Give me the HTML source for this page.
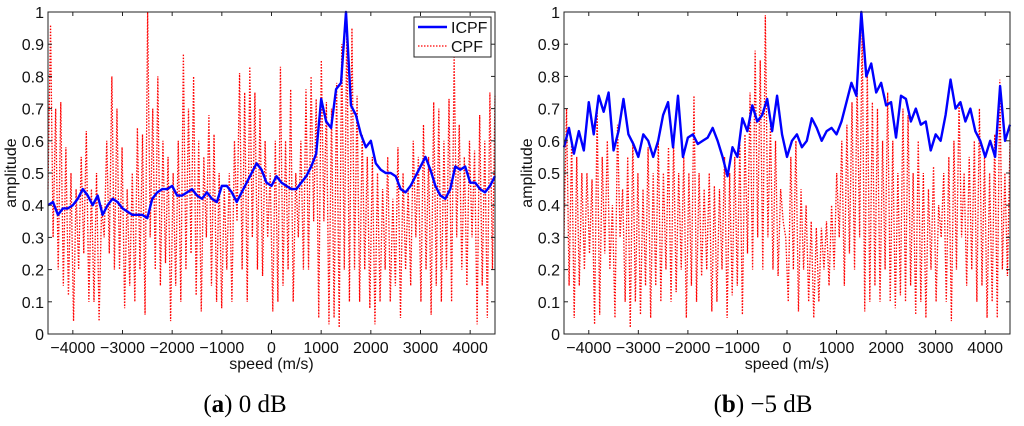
<!DOCTYPE html>
<html><head><meta charset="utf-8">
<style>
html,body{margin:0;padding:0;background:#fff;}
svg{display:block;font-family:"Liberation Sans",sans-serif;}
</style></head>
<body>
<svg id="chart" width="1024" height="426" viewBox="0 0 1024 426" xmlns="http://www.w3.org/2000/svg">
<text x="245" y="412" text-anchor="middle" font-family="Liberation Serif,serif" font-size="25">(<tspan font-weight="bold">a</tspan>) 0 dB</text>
<text x="763" y="412" text-anchor="middle" font-family="Liberation Serif,serif" font-size="25">(<tspan font-weight="bold">b</tspan>) −5 dB</text>
</svg>
<script>
const xTicks=[-4000,-3000,-2000,-1000,0,1000,2000,3000,4000];
const yTicks=[0,0.1,0.2,0.3,0.4,0.5,0.6,0.7,0.8,0.9,1];
const icpfA=[0.40,0.41,0.37,0.39,0.39,0.40,0.42,0.45,0.43,0.40,
0.43,0.37,0.40,0.42,0.41,0.39,0.38,0.37,0.37,0.37,
0.36,0.42,0.44,0.45,0.45,0.46,0.43,0.43,0.44,0.45,
0.43,0.42,0.44,0.42,0.41,0.46,0.46,0.44,0.41,0.44,
0.47,0.50,0.53,0.51,0.47,0.46,0.49,0.47,0.46,0.45,
0.45,0.47,0.49,0.52,0.56,0.73,0.66,0.64,0.76,0.78,
1.0,0.71,0.68,0.62,0.58,0.60,0.53,0.51,0.50,0.50,
0.49,0.45,0.44,0.46,0.49,0.52,0.55,0.51,0.46,0.43,
0.42,0.45,0.52,0.51,0.52,0.47,0.47,0.45,0.44,0.46,0.49];
const cpfA=[0.45,0.96,0.3,0.7,0.2,0.72,0.15,0.58,
0.12,0.5,0.04,0.45,0.2,0.55,0.25,0.63,0.1,0.45,
0.1,0.5,0.04,0.4,0.3,0.6,0.25,0.8,0.2,0.7,
0.2,0.58,0.08,0.45,0.15,0.5,0.1,0.64,0.2,0.62,
0.06,1.0,0.3,0.7,0.2,0.8,0.15,0.6,0.22,0.55,
0.04,0.5,0.15,0.6,0.1,0.87,0.2,0.7,0.25,0.8,
0.12,0.6,0.07,0.55,0.3,0.68,0.15,0.62,0.1,0.5,
0.08,0.45,0.2,0.5,0.1,0.6,0.35,0.81,0.2,0.75,
0.1,0.83,0.3,0.75,0.2,0.7,0.18,0.6,0.3,0.5,
0.07,0.6,0.1,0.83,0.15,0.6,0.2,0.76,0.1,0.5,
0.3,0.6,0.2,0.76,0.2,0.8,0.35,0.73,0.05,0.85,
0.35,0.72,0.03,0.7,0.05,0.78,0.02,0.9,0.2,0.98,
0.1,0.95,0.2,0.74,0.1,0.62,0.2,0.55,0.08,0.55,
0.03,0.5,0.1,0.45,0.2,0.55,0.1,0.42,0.15,0.58,
0.05,0.5,0.2,0.45,0.15,0.6,0.3,0.55,0.1,0.65,
0.2,0.55,0.06,0.72,0.15,0.7,0.1,0.6,0.2,0.73,
0.1,0.86,0.3,0.65,0.2,0.55,0.15,0.6,0.3,0.57,
0.03,0.68,0.15,0.6,0.05,0.75,0.2,0.74];
const icpfB=[0.58,0.64,0.56,0.63,0.57,0.72,0.62,0.74,0.69,0.75,
0.57,0.63,0.73,0.62,0.59,0.55,0.62,0.60,0.55,0.60,
0.68,0.72,0.58,0.74,0.55,0.61,0.62,0.59,0.60,0.61,
0.64,0.60,0.55,0.49,0.58,0.55,0.67,0.63,0.71,0.66,
0.68,0.73,0.63,0.74,0.62,0.55,0.60,0.62,0.58,0.60,
0.67,0.64,0.60,0.63,0.64,0.62,0.66,0.72,0.78,0.74,
1.0,0.80,0.84,0.75,0.78,0.71,0.72,0.61,0.74,0.73,
0.66,0.70,0.65,0.66,0.57,0.62,0.60,0.68,0.79,0.70,
0.72,0.66,0.70,0.63,0.60,0.55,0.60,0.55,0.77,0.60,0.65];
const cpfB=[0.3,0.7,0.15,0.6,0.05,0.55,0.15,0.5,
0.2,0.5,0.25,0.48,0.03,0.7,0.06,0.55,0.25,0.6,
0.2,0.4,0.05,0.65,0.3,0.45,0.1,0.55,0.02,0.6,
0.1,0.5,0.06,0.45,0.15,0.58,0.05,0.5,0.15,0.6,
0.1,0.5,0.2,0.58,0.1,0.6,0.13,0.5,0.2,0.55,
0.05,0.5,0.15,0.74,0.1,0.5,0.18,0.45,0.2,0.5,
0.07,0.46,0.1,0.45,0.2,0.55,0.05,0.5,0.12,0.55,
0.15,0.6,0.06,0.62,0.25,0.75,0.2,0.88,0.3,0.85,
0.2,0.99,0.3,0.65,0.2,0.6,0.18,0.45,0.35,0.3,
0.1,0.55,0.2,0.6,0.07,0.45,0.2,0.4,0.1,0.35,
0.05,0.33,0.1,0.33,0.2,0.35,0.15,0.4,0.2,0.5,
0.3,0.6,0.15,0.65,0.25,0.72,0.2,0.78,0.3,0.95,
0.07,0.82,0.1,0.72,0.15,0.7,0.1,0.6,0.2,0.75,
0.1,0.6,0.08,0.5,0.12,0.7,0.1,0.68,0.15,0.5,
0.06,0.6,0.1,0.5,0.05,0.45,0.2,0.52,0.1,0.4,
0.3,0.5,0.1,0.55,0.04,0.6,0.2,0.72,0.3,0.5,
0.15,0.55,0.2,0.6,0.1,0.7,0.15,0.55,0.05,0.5,
0.1,0.62,0.05,0.79,0.2,0.5,0.18,0.6];

const NS='http://www.w3.org/2000/svg';
const svg=document.getElementById('chart');
function mk(tag,attrs,parent){const e=document.createElementNS(NS,tag);for(const k in attrs)e.setAttribute(k,attrs[k]);(parent||svg).appendChild(e);return e;}

function panel(id,L,R,T,B,icpf,cpf,legend){
  const g=mk('g',{});
  
  
  const xs=v=>L+(v+4500)/9000*(R-L);
  const ys=v=>B-v*(B-T);
  const pts=(arr)=>arr.map((v,i)=>xs(-4500+i*9000/(arr.length-1)).toFixed(2)+','+ys(v).toFixed(2)).join(' ');
  const c=mk('polyline',{points:pts(cpf),fill:'none',stroke:'#ff0000','stroke-width':1.3,'stroke-dasharray':'1.5 1.5'},g);
  
  
  const b=mk('polyline',{points:pts(icpf),fill:'none',stroke:'#0000ff','stroke-width':2.4,'stroke-linejoin':'round'},g);
  
  
  mk('rect',{x:L,y:T,width:R-L,height:B-T,fill:'none',stroke:'#222','stroke-width':1},g);
  xTicks.forEach(t=>{
    const x=xs(t);
    mk('line',{x1:x,y1:B,x2:x,y2:B-4,stroke:'#222'},g);
    mk('line',{x1:x,y1:T,x2:x,y2:T+4,stroke:'#222'},g);
    const tx=mk('text',{x:x,y:B+19,'text-anchor':'middle','font-size':16,fill:'#111'},g);
    tx.textContent=t<0?'\u2212'+(-t):String(t);
    
    
  });
  yTicks.forEach(t=>{
    const y=ys(t);
    mk('line',{x1:L,y1:y,x2:L+4,y2:y,stroke:'#222'},g);
    mk('line',{x1:R,y1:y,x2:R-4,y2:y,stroke:'#222'},g);
    const ty=mk('text',{x:L-4,y:y+6,'text-anchor':'end','font-size':16,fill:'#111'},g);
    ty.textContent=String(t);
    
    
  });
  const xl=mk('text',{x:(L+R)/2,y:B+35,'text-anchor':'middle','font-size':16,fill:'#111'},g);
  xl.textContent='speed (m/s)';
  
  
  const yl=mk('text',{x:0,y:0,'text-anchor':'middle','font-size':16,fill:'#111',transform:`translate(${L-32},${(T+B)/2}) rotate(-90)`},g);
  yl.textContent='amplitude';
  
  
  if(legend){
    const lg=mk('g',{},g);
    
    
    mk('rect',{x:414,y:17,width:77,height:40,fill:'#fff',stroke:'#222'},lg);
    mk('line',{x1:418,y1:27,x2:447,y2:27,stroke:'#0000ff','stroke-width':2.4},lg);
    mk('line',{x1:418,y1:46,x2:447,y2:46,stroke:'#ff0000','stroke-width':1.3,'stroke-dasharray':'1.5 1.5'},lg);
    const t1=mk('text',{x:451,y:33,'font-size':16,fill:'#111'},lg);t1.textContent='ICPF';
    
    
    const t2=mk('text',{x:451,y:52,'font-size':16,fill:'#111'},lg);t2.textContent='CPF';
    
    
  }
}
panel('plot-0db',48,495,12,334,icpfA,cpfA,true);
panel('plot-minus5db',564,1010,12,334,icpfB,cpfB,false);
</script>
</body></html>
